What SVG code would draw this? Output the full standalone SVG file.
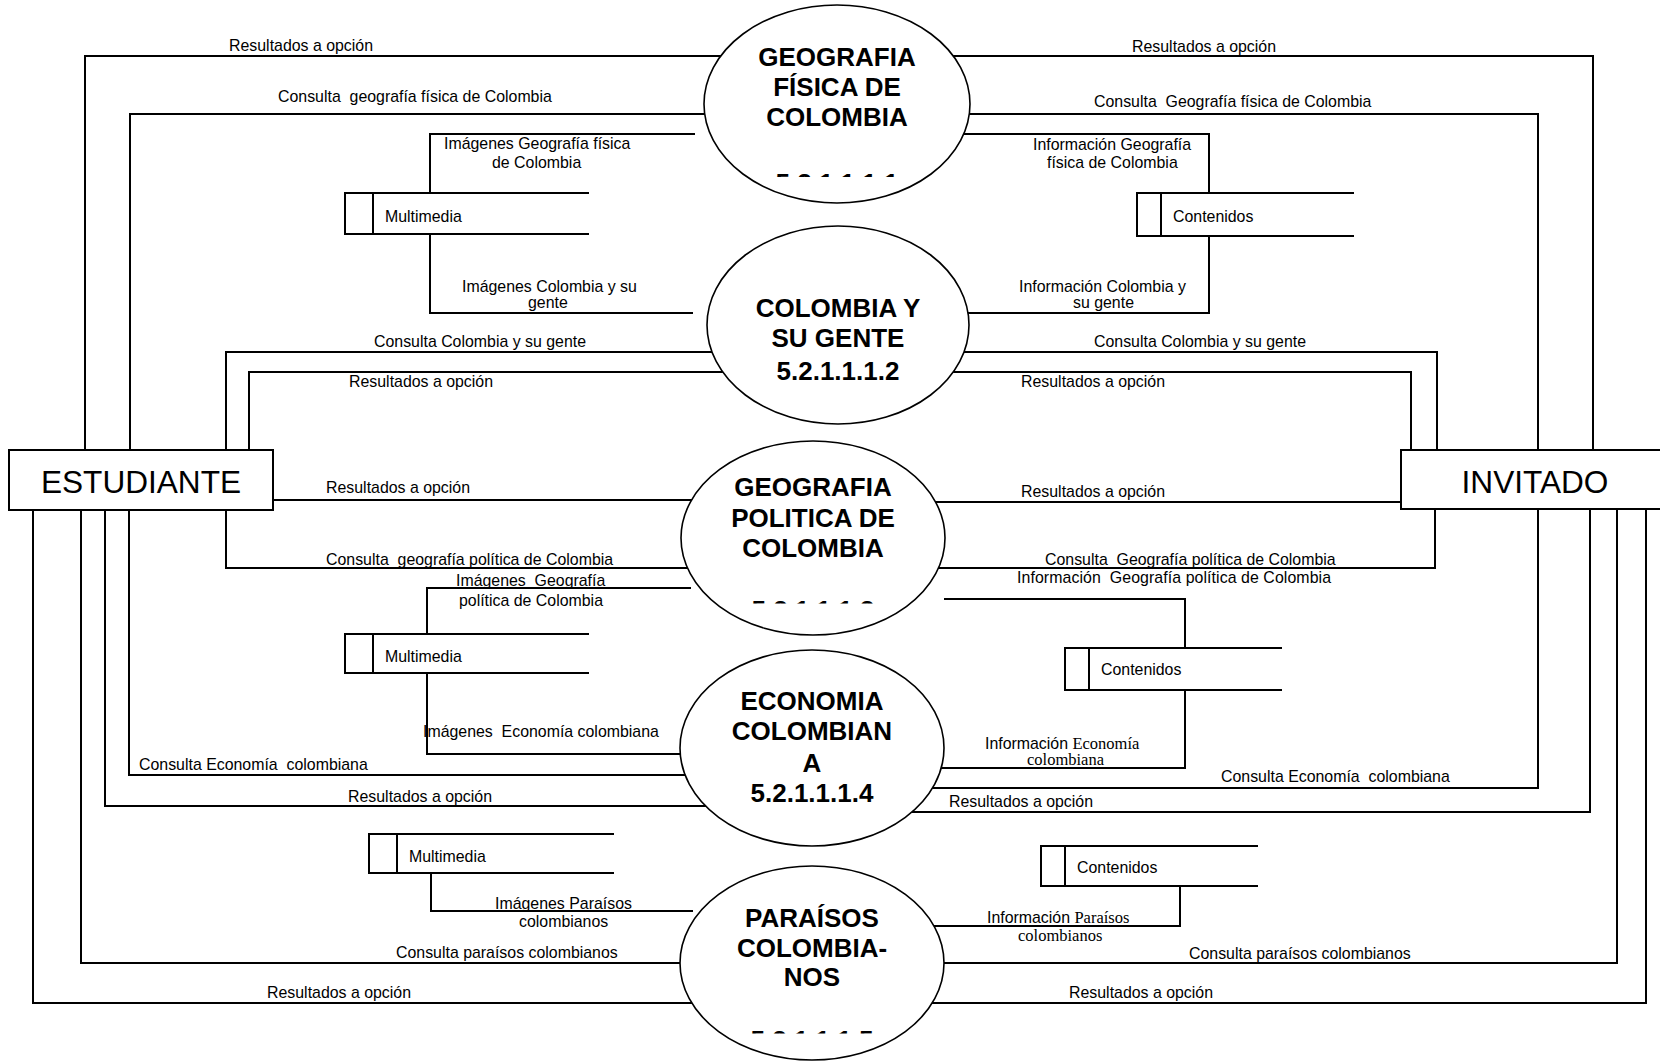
<svg xmlns="http://www.w3.org/2000/svg" width="1660" height="1061" viewBox="0 0 1660 1061">
  <style>
    .ln { fill: none; stroke: #000; stroke-width: 2; }
    .st { fill: none; stroke: #000; stroke-width: 2; }
    .pr { fill: #fff; stroke: #000; stroke-width: 1.6; }
    .ent { fill: #fff; stroke: #000; stroke-width: 2; }
    .t { font-family: "Liberation Sans", Arial, sans-serif; font-size: 15.9px; fill: #000; white-space: pre; }
    .sf { font-family: "Liberation Serif", "Times New Roman", serif; font-size: 16.5px; }
    .pt { font-family: "Liberation Sans", Arial, sans-serif; font-size: 26px; font-weight: bold; fill: #000; text-anchor: middle; }
    .et { font-family: "Liberation Sans", Arial, sans-serif; font-size: 31.6px; fill: #000; text-anchor: middle; }
  </style>
  <defs>
    <clipPath id="cut1"><rect x="700" y="160" width="280" height="17"/></clipPath>
    <clipPath id="cut3"><rect x="680" y="590" width="280" height="13.5"/></clipPath>
    <clipPath id="cut5"><rect x="680" y="1020" width="280" height="13.5"/></clipPath>
  </defs>
  <rect width="1660" height="1061" fill="#fff"/>

  <!-- data flows -->
  <g id="connectors">
    <!-- ESTUDIANTE side -->
    <path class="ln" d="M85,450 V56 H780"/>
    <path class="ln" d="M130,450 V114 H780"/>
    <path class="ln" d="M430,193 V134 H695"/>
    <path class="ln" d="M430,234 V313 H693"/>
    <path class="ln" d="M226,450 V352 H780"/>
    <path class="ln" d="M249,450 V372 H780"/>
    <path class="ln" d="M273,500 H760"/>
    <path class="ln" d="M226,510 V568 H760"/>
    <path class="ln" d="M427,634 V588 H691"/>
    <path class="ln" d="M427,673 V754 H760"/>
    <path class="ln" d="M129,510 V775 H760"/>
    <path class="ln" d="M105,510 V806 H760"/>
    <path class="ln" d="M431,873 V911 H693"/>
    <path class="ln" d="M81,510 V963 H760"/>
    <path class="ln" d="M33,510 V1003 H760"/>
    <!-- INVITADO side -->
    <path class="ln" d="M895,56 H1593 V450"/>
    <path class="ln" d="M895,114 H1538 V450"/>
    <path class="ln" d="M895,134 H1209 V193"/>
    <path class="ln" d="M1209,236 V313 H895"/>
    <path class="ln" d="M895,352 H1437 V450"/>
    <path class="ln" d="M895,372 H1411 V450"/>
    <path class="ln" d="M870,502 H1401"/>
    <path class="ln" d="M870,568 H1435 V509"/>
    <path class="ln" d="M944,599 H1185 V648"/>
    <path class="ln" d="M1185,690 V768 H870"/>
    <path class="ln" d="M870,788 H1538 V509"/>
    <path class="ln" d="M870,812 H1590 V509"/>
    <path class="ln" d="M1180,886 V926 H870"/>
    <path class="ln" d="M870,963 H1617 V509"/>
    <path class="ln" d="M870,1003 H1646 V509"/>
  </g>

  <!-- flow labels -->
  <g id="flow-labels">
    <text class="t" x="229" y="51">Resultados a opción</text>
    <text class="t" x="278" y="102">Consulta  geografía física de Colombia</text>
    <text class="t" x="444" y="149">Imágenes Geografía física</text>
    <text class="t" x="492" y="168">de Colombia</text>
    <text class="t" x="462" y="292">Imágenes Colombia y su</text>
    <text class="t" x="528" y="308">gente</text>
    <text class="t" x="374" y="347">Consulta Colombia y su gente</text>
    <text class="t" x="349" y="387">Resultados a opción</text>
    <text class="t" x="326" y="493">Resultados a opción</text>
    <text class="t" x="326" y="565">Consulta  geografía política de Colombia</text>
    <text class="t" x="456" y="586">Imágenes  Geografía</text>
    <text class="t" x="459" y="606">política de Colombia</text>
    <text class="t" x="423" y="737">Imágenes  Economía colombiana</text>
    <text class="t" x="139" y="770">Consulta Economía  colombiana</text>
    <text class="t" x="348" y="802">Resultados a opción</text>
    <text class="t" x="495" y="909">Imágenes Paraísos</text>
    <text class="t" x="519" y="927">colombianos</text>
    <text class="t" x="396" y="958">Consulta paraísos colombianos</text>
    <text class="t" x="267" y="998">Resultados a opción</text>

    <text class="t" x="1132" y="52">Resultados a opción</text>
    <text class="t" x="1094" y="107">Consulta  Geografía física de Colombia</text>
    <text class="t" x="1033" y="150">Información Geografía</text>
    <text class="t" x="1047" y="168">física de Colombia</text>
    <text class="t" x="1019" y="292">Información Colombia y</text>
    <text class="t" x="1073" y="308">su gente</text>
    <text class="t" x="1094" y="347">Consulta Colombia y su gente</text>
    <text class="t" x="1021" y="387">Resultados a opción</text>
    <text class="t" x="1021" y="497">Resultados a opción</text>
    <text class="t" x="1045" y="565">Consulta  Geografía política de Colombia</text>
    <text class="t" x="1017" y="583" textLength="314" lengthAdjust="spacing">Información  Geografía política de Colombia</text>
    <text class="t" x="985" y="749">Información <tspan class="sf">Economía</tspan></text>
    <text class="t sf" x="1027" y="765">colombiana</text>
    <text class="t" x="1221" y="782">Consulta Economía  colombiana</text>
    <text class="t" x="949" y="807">Resultados a opción</text>
    <text class="t" x="987" y="923">Información <tspan class="sf">Paraísos</tspan></text>
    <text class="t sf" x="1018" y="941">colombianos</text>
    <text class="t" x="1189" y="959">Consulta paraísos colombianos</text>
    <text class="t" x="1069" y="998">Resultados a opción</text>
  </g>

  <!-- data stores -->
  <g id="store-multimedia-1">
    <path class="st" d="M589,193 H345 V234 H589 M373,193 V234"/>
    <text class="t" x="385" y="222">Multimedia</text>
  </g>
  <g id="store-multimedia-2">
    <path class="st" d="M589,634 H345 V673 H589 M373,634 V673"/>
    <text class="t" x="385" y="662">Multimedia</text>
  </g>
  <g id="store-multimedia-3">
    <path class="st" d="M614,834 H369 V873 H614 M397,834 V873"/>
    <text class="t" x="409" y="862">Multimedia</text>
  </g>
  <g id="store-contenidos-1">
    <path class="st" d="M1354,193 H1137 V236 H1354 M1161,193 V236"/>
    <text class="t" x="1173" y="222">Contenidos</text>
  </g>
  <g id="store-contenidos-2">
    <path class="st" d="M1282,648 H1065 V690 H1282 M1089,648 V690"/>
    <text class="t" x="1101" y="675">Contenidos</text>
  </g>
  <g id="store-contenidos-3">
    <path class="st" d="M1258,846 H1041 V886 H1258 M1065,846 V886"/>
    <text class="t" x="1077" y="873">Contenidos</text>
  </g>

  <!-- processes -->
  <g id="proc-geografia-fisica">
    <ellipse class="pr" cx="837" cy="104" rx="133" ry="99"/>
    <text class="pt" x="837" y="66">GEOGRAFIA</text>
    <text class="pt" x="837" y="96">FÍSICA DE</text>
    <text class="pt" x="837" y="126">COLOMBIA</text>
    <text class="pt" x="837" y="191.5" clip-path="url(#cut1)">5.2.1.1.1.1</text>
  </g>
  <g id="proc-colombia-gente">
    <ellipse class="pr" cx="838" cy="325" rx="131" ry="99"/>
    <text class="pt" x="838" y="317">COLOMBIA Y</text>
    <text class="pt" x="838" y="347">SU GENTE</text>
    <text class="pt" x="838" y="380">5.2.1.1.1.2</text>
  </g>
  <g id="proc-geografia-politica">
    <ellipse class="pr" cx="813" cy="538" rx="132" ry="97"/>
    <text class="pt" x="813" y="496">GEOGRAFIA</text>
    <text class="pt" x="813" y="527">POLITICA DE</text>
    <text class="pt" x="813" y="557">COLOMBIA</text>
    <text class="pt" x="813" y="618.5" clip-path="url(#cut3)">5.2.1.1.1.3</text>
  </g>
  <g id="proc-economia">
    <ellipse class="pr" cx="812" cy="748" rx="132" ry="98"/>
    <text class="pt" x="812" y="710">ECONOMIA</text>
    <text class="pt" x="812" y="740">COLOMBIAN</text>
    <text class="pt" x="812" y="772">A</text>
    <text class="pt" x="812" y="802">5.2.1.1.1.4</text>
  </g>
  <g id="proc-paraisos">
    <ellipse class="pr" cx="812" cy="963" rx="132" ry="97"/>
    <text class="pt" x="812" y="927">PARAÍSOS</text>
    <text class="pt" x="812" y="957">COLOMBIA-</text>
    <text class="pt" x="812" y="986">NOS</text>
    <text class="pt" x="812" y="1048.5" clip-path="url(#cut5)">5.2.1.1.1.5</text>
  </g>

  <!-- external entities -->
  <g id="ent-estudiante">
    <rect class="ent" x="9" y="450" width="264" height="60"/>
    <text class="et" x="141" y="493">ESTUDIANTE</text>
  </g>
  <g id="ent-invitado">
    <rect class="ent" x="1401" y="450" width="280" height="59"/>
    <text class="et" x="1535" y="493">INVITADO</text>
  </g>
</svg>
